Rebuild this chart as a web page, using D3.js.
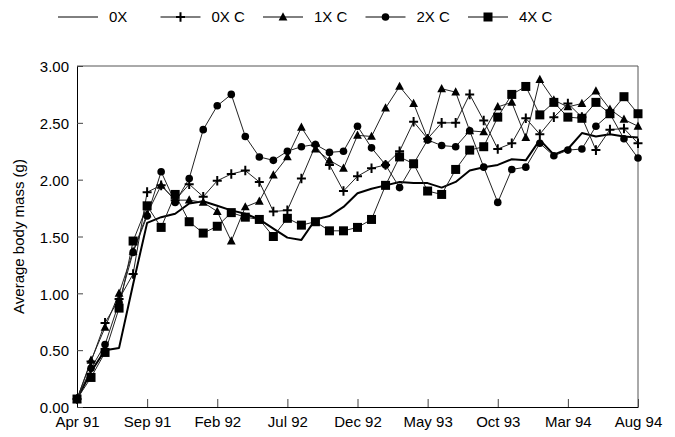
<!DOCTYPE html>
<html>
<head>
<meta charset="utf-8">
<script src="https://cdn.jsdelivr.net/npm/d3@7"></script>
<style>
  body { margin: 0; background: #fff; }
  svg { display: block; font-family: "Liberation Sans", Arial, Helvetica, sans-serif; }
</style>
</head>
<body>
<svg id="chart" width="675" height="437"></svg>
<script>
// Monthly sampling dates, April 1991 to August 1994
const months = [
  "Apr 91","May 91","Jun 91","Jul 91","Aug 91","Sep 91","Oct 91","Nov 91","Dec 91",
  "Jan 92","Feb 92","Mar 92","Apr 92","May 92","Jun 92","Jul 92","Aug 92","Sep 92","Oct 92","Nov 92","Dec 92",
  "Jan 93","Feb 93","Mar 93","Apr 93","May 93","Jun 93","Jul 93","Aug 93","Sep 93","Oct 93","Nov 93","Dec 93",
  "Jan 94","Feb 94","Mar 94","Apr 94","May 94","Jun 94","Jul 94","Aug 94"
];
const tickMonths = ["Apr 91","Sep 91","Feb 92","Jul 92","Dec 92","May 93","Oct 93","Mar 94","Aug 94"];
const yTicks = [0, 0.5, 1, 1.5, 2, 2.5, 3];

// Average body mass (g) per treatment
const mass0X = [
  0.07, 0.31, 0.50, 0.52, 1.08, 1.62, 1.67, 1.70, 1.79, 1.81, 1.77, 1.73, 1.70, 1.65, 1.57, 1.49,
  1.47, 1.65, 1.68, 1.76, 1.88, 1.92, 1.95, 1.98, 1.97, 1.97, 1.93, 1.98, 2.08, 2.11, 2.13, 2.18,
  2.17, 2.35, 2.22, 2.27, 2.41, 2.38, 2.40, 2.38, 2.37
];
const mass0XC = [
  0.07, 0.40, 0.74, 0.95, 1.17, 1.89, 1.95, 1.82, 1.96, 1.85, 1.99, 2.05, 2.08, 1.98, 1.72, 1.73,
  2.01, 2.30, 2.13, 1.90, 2.03, 2.10, 2.13, 2.25, 2.51, 2.36, 2.50, 2.50, 2.75, 2.52, 2.27, 2.32,
  2.54, 2.40, 2.55, 2.67, 2.55, 2.26, 2.44, 2.45, 2.32
];
const mass1XC = [
  0.07, 0.41, 0.70, 1.00, 1.37, 1.70, 1.95, 1.82, 1.82, 1.80, 1.72, 1.46, 1.76, 1.81, 2.04, 2.20,
  2.46, 2.27, 2.17, 2.10, 2.39, 2.38, 2.63, 2.82, 2.67, 2.36, 2.80, 2.77, 2.43, 2.42, 2.64, 2.68,
  2.37, 2.88, 2.70, 2.64, 2.67, 2.78, 2.62, 2.53, 2.47
];
const mass2XC = [
  0.07, 0.34, 0.55, 0.92, 1.36, 1.68, 2.07, 1.80, 2.01, 2.44, 2.65, 2.75, 2.38, 2.20, 2.17, 2.25,
  2.29, 2.31, 2.24, 2.25, 2.47, 2.28, 2.13, 1.93, 2.14, 2.35, 2.30, 2.29, 2.43, 2.11, 1.80, 2.09,
  2.11, 2.32, 2.21, 2.26, 2.27, 2.47, 2.58, 2.36, 2.19
];
const mass4XC = [
  0.07, 0.26, 0.48, 0.87, 1.46, 1.77, 1.58, 1.87, 1.63, 1.53, 1.59, 1.71, 1.67, 1.65, 1.50, 1.66,
  1.60, 1.63, 1.55, 1.55, 1.58, 1.65, 1.95, 2.20, 2.14, 1.90, 1.87, 2.09, 2.26, 2.29, 2.55, 2.75,
  2.82, 2.57, 2.68, 2.55, 2.54, 2.68, 2.58, 2.73, 2.58
];

const seriesNames = ["0X", "0X C", "1X C", "2X C", "4X C"];
const seriesValues = [mass0X, mass0XC, mass1XC, mass2XC, mass4XC];
const seriesMarkers = ["none", "plus", "triangle", "circle", "square"];

const svg = d3.select("#chart");
const plotLeft = 77, plotRight = 638, plotTop = 66, plotBottom = 407;

const x = d3.scalePoint().domain(months).range([plotLeft, plotRight]);
const y = d3.scaleLinear().domain([0, 3]).range([plotBottom, plotTop]);

// Marker drawing
function drawMarker(g, type) {
  if (type === "square") {
    g.append("rect").attr("x", -4.5).attr("y", -4.5).attr("width", 9).attr("height", 9)
      .attr("fill", "#000");
  } else if (type === "circle") {
    g.append("circle").attr("r", 3.8).attr("fill", "#000");
  } else if (type === "triangle") {
    g.append("path").attr("d", "M0,-4.8L4.4,3.4L-4.4,3.4Z").attr("fill", "#000");
  } else if (type === "plus") {
    g.append("path").attr("d", "M-4.5,0H4.5M0,-4.8V4.8")
      .attr("stroke", "#000").attr("stroke-width", 2).attr("fill", "none");
  }
}

// Frame (top and right)
svg.append("path")
  .attr("d", `M${plotLeft},${plotTop}H${plotRight}V${plotBottom}`)
  .attr("fill", "none").attr("stroke", "#555").attr("stroke-width", 1);

// Axes
const xAxis = d3.axisBottom(x).tickValues(tickMonths).tickSizeInner(-8).tickSizeOuter(0).tickPadding(9);
const gx = svg.append("g").attr("transform", `translate(0,${plotBottom})`).call(xAxis);
gx.select(".domain").attr("stroke", "#000");
gx.selectAll(".tick line").attr("stroke", "#444");
gx.selectAll("text").attr("font-size", 15).attr("fill", "#000").attr("font-family", null);

const yAxis = d3.axisLeft(y).tickValues(yTicks).tickFormat(d3.format(".2f"))
  .tickSizeInner(-6).tickSizeOuter(0).tickPadding(8);
const gy = svg.append("g").attr("transform", `translate(${plotLeft},0)`).call(yAxis);
gy.select(".domain").attr("stroke", "#000");
gy.selectAll(".tick line").attr("stroke", "#444");
gy.selectAll("text").attr("font-size", 15).attr("fill", "#000").attr("dy", "0.38em").attr("font-family", null);

// Y axis title
svg.append("text")
  .attr("transform", `translate(24,${(plotTop + plotBottom) / 2}) rotate(-90)`)
  .attr("text-anchor", "middle")
  .attr("font-size", 15)
  .text("Average body mass (g)");

// Series lines, then markers on top
const line = d3.line().x((d, i) => x(months[i])).y(d => y(d));
seriesValues.forEach((vals, k) => {
  svg.append("path")
    .datum(vals)
    .attr("d", line)
    .attr("fill", "none")
    .attr("stroke", k === 0 ? "#000" : "#222")
    .attr("stroke-width", k === 0 ? 2 : 1)
    .attr("stroke-linejoin", "round");
});
seriesValues.forEach((vals, k) => {
  if (seriesMarkers[k] === "none") return;
  svg.append("g").selectAll("g")
    .data(vals)
    .join("g")
    .attr("transform", (d, i) => `translate(${x(months[i])},${y(d)})`)
    .each(function () { drawMarker(d3.select(this), seriesMarkers[k]); });
});

// Legend
const legendY = 17;
const legend = svg.append("g");
seriesNames.forEach((name, k) => {
  const lx = 58 + k * 102.5;
  const g = legend.append("g").attr("transform", `translate(${lx},${legendY})`);
  g.append("line").attr("x1", 0).attr("x2", 40).attr("y1", 0).attr("y2", 0)
    .attr("stroke", "#000").attr("stroke-width", 1);
  const m = g.append("g").attr("transform", "translate(20,0)");
  drawMarker(m, seriesMarkers[k]);
  g.append("text").attr("x", 51).attr("y", 0).attr("dy", "0.35em")
    .attr("font-size", 15).text(name);
});
</script>
</body>
</html>
